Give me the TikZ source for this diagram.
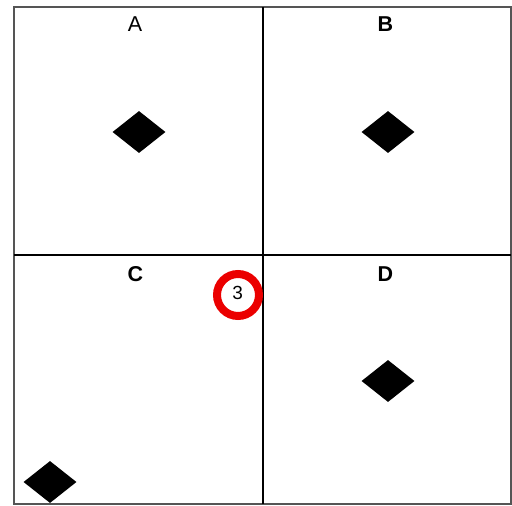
\documentclass[tikz,border=0pt]{standalone}
\usepackage{fontspec}
\setmainfont{Liberation Sans}
\usepackage{tikz}
\usetikzlibrary{shapes.geometric}
\definecolor{framegray}{RGB}{85,85,85}
\definecolor{markred}{RGB}{235,0,0}
\tikzstyle{gem}=[diamond,fill=black,inner sep=0pt,minimum width=53pt,minimum height=42pt]
\tikzstyle{tag}=[anchor=base,inner sep=0pt,font=\fontsize{21.5}{25}\selectfont]
\tikzstyle{ring}=[circle,draw=markred,line width=8pt,fill=white,minimum size=42pt,inner sep=0pt]

\begin{document}
\begin{tikzpicture}[x=1pt,y=-1pt]
  \useasboundingbox (0,0) rectangle (512,506);
  % quadrants
  \draw[framegray,line width=2pt] (14,7) rectangle (510.5,504);
  \draw[black,line width=2pt] (263,7) -- (263,504);
  \draw[black,line width=1.6pt] (14,255) -- (510.5,255);
  % quadrant letters
  \node[tag] (la) at (135,31) {A};
  \node[tag] (lb) at (385.5,31) {\bfseries B};
  \node[tag] (lc) at (135.5,281.5) {\bfseries C};
  \node[tag] (ld) at (385.5,281) {\bfseries D};
  % markers
  \node[gem] (ga) at (139,132) {};
  \node[gem] (gb) at (388,132) {};
  \node[gem] (gc) at (50,482) {};
  \node[gem] (gd) at (388,381) {};
  % numbered badge
  \node[ring] (n3) at (238,295) {};
  \node[anchor=base,inner sep=0pt,font=\fontsize{19}{22}\selectfont] (t3) at (237.7,299.5) {3};
\end{tikzpicture}
\end{document}
